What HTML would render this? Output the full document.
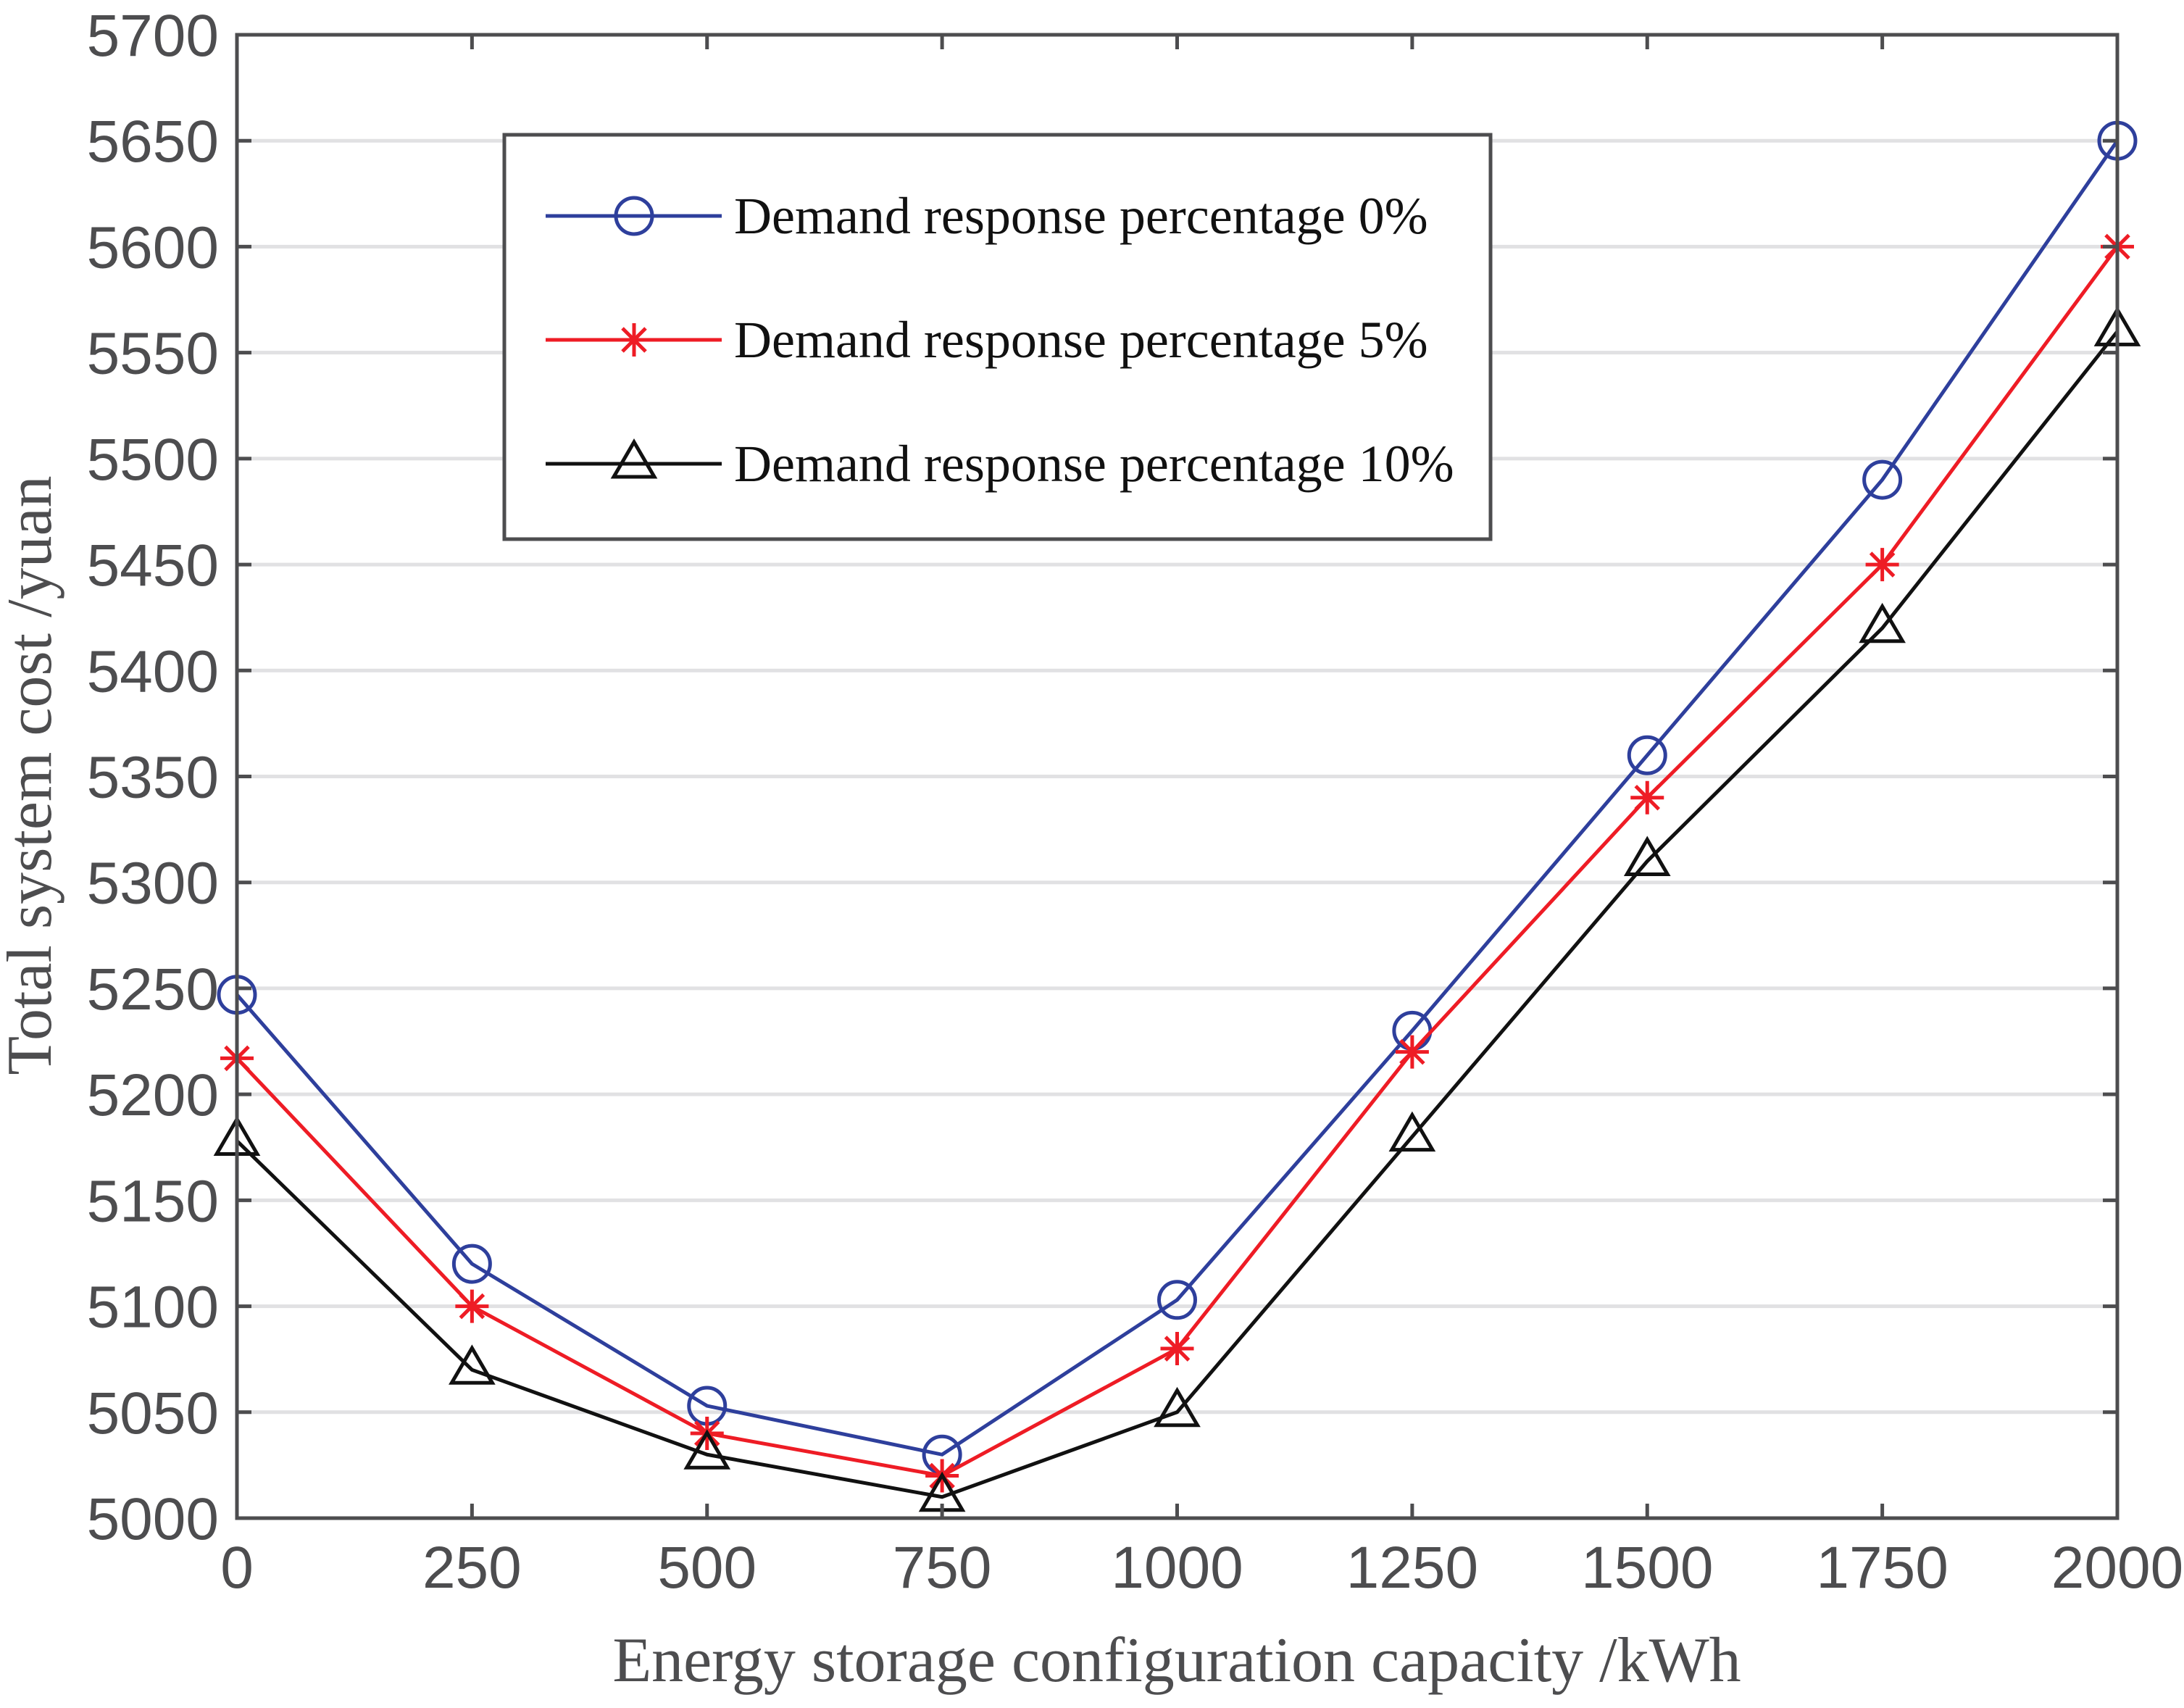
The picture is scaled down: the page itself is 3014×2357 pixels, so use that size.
<!DOCTYPE html>
<html><head><meta charset="utf-8"><style>body{margin:0;background:#fff}svg{display:block}</style></head>
<body>
<svg id="chart" width="3014" height="2357" xmlns="http://www.w3.org/2000/svg">
<g id="grid"></g>
<g id="series"></g>
<rect x="327" y="48" width="2595" height="2047" fill="none" stroke="#4d4d4f" stroke-width="5"/>
<g id="ticks"></g>
<text x="1624" y="2320" font-family="Liberation Serif, serif" font-size="88" fill="#4d4d4f" text-anchor="middle">Energy storage configuration capacity /kWh</text>
<text transform="translate(70,1070) rotate(-90)" font-family="Liberation Serif, serif" font-size="88" fill="#4d4d4f" text-anchor="middle">Total system cost /yuan</text>
<g id="legend">
<rect x="696" y="186" width="1361" height="558" fill="#fff" stroke="#4d4d4f" stroke-width="5"/>
</g>
</svg>
<script>
const categories=[0,250,500,750,1000,1250,1500,1750,2000];
const series0=[5247,5120,5053,5030,5103,5230,5360,5490,5650];
const series5=[5217,5100,5040,5020,5080,5220,5340,5450,5600];
const series10=[5178,5070,5030,5010,5050,5180,5310,5420,5560];
const yTicks=[5000,5050,5100,5150,5200,5250,5300,5350,5400,5450,5500,5550,5600,5650,5700];
const xTicks=[0,250,500,750,1000,1250,1500,1750,2000];
const names=["Demand response percentage 0%","Demand response percentage 5%","Demand response percentage 10%"];
const NS="http://www.w3.org/2000/svg";
const L=327,R=2922,T=48,B=2095;
const xs=v=>L+(v-0)/(2000-0)*(R-L);
const ys=v=>B-(v-5000)/(5700-5000)*(B-T);
function mk(tag,attrs,parent){const e=document.createElementNS(NS,tag);for(const k in attrs)e.setAttribute(k,attrs[k]);parent.appendChild(e);return e;}
const grid=document.getElementById('grid'),ticks=document.getElementById('ticks'),ser=document.getElementById('series'),leg=document.getElementById('legend');
yTicks.forEach(v=>{
  const y=ys(v);
  if(v>5000&&v<5700){const g=mk('line',{x1:L,x2:R,y1:y,y2:y,stroke:'#e1e1e3','stroke-width':5},grid);
  
  }
  const t=mk('line',{x1:L,x2:L+20,y1:y,y2:y,stroke:'#4d4d4f','stroke-width':5},ticks);
  
  
  const t2=mk('line',{x1:R,x2:R-20,y1:y,y2:y,stroke:'#4d4d4f','stroke-width':5},ticks);
  
  
  const tx=mk('text',{x:L-25,y:y+29,'text-anchor':'end','font-family':'Liberation Sans, sans-serif','font-size':82,fill:'#4d4d4f'},ticks);
  tx.textContent=v;
  
  
});
xTicks.forEach(v=>{
  const x=xs(v);
  const t=mk('line',{x1:x,x2:x,y1:B,y2:B-20,stroke:'#4d4d4f','stroke-width':5},ticks);
  
  
  const t2=mk('line',{x1:x,x2:x,y1:T,y2:T+20,stroke:'#4d4d4f','stroke-width':5},ticks);
  
  
  const tx=mk('text',{x:x,y:B+96,'text-anchor':'middle','font-family':'Liberation Sans, sans-serif','font-size':82,fill:'#4d4d4f'},ticks);
  tx.textContent=v;
  
  
});
function marker(type,x,y,color,parent){
  let e;
  if(type==='circle'){e=mk('circle',{cx:x,cy:y,r:25,fill:'none',stroke:color,'stroke-width':5},parent);}
  else if(type==='star'){const s=23,d=16;e=mk('path',{d:`M${x-s},${y}H${x+s}M${x},${y-s}V${y+s}M${x-d},${y-d}L${x+d},${y+d}M${x-d},${y+d}L${x+d},${y-d}`,fill:'none',stroke:color,'stroke-width':5},parent);}
  else{e=mk('path',{d:`M${x},${y-30}L${x+28},${y+18}L${x-28},${y+18}Z`,fill:'none',stroke:color,'stroke-width':5},parent);}
  return e;
}
const defs=[[series0,'#2e3f9c','circle','series-0pct'],[series5,'#ee1c25','star','series-5pct'],[series10,'#111111','triangle','series-10pct']];
defs.forEach(([vals,color,type,name])=>{
  const g=mk('g',{},ser);
  
  
  const pl=mk('polyline',{points:vals.map((v,i)=>xs(categories[i])+','+ys(v)).join(' '),fill:'none',stroke:color,'stroke-width':5},g);
  
  
  vals.forEach((v,i)=>{const m=marker(type,xs(categories[i]),ys(v),color,g);
    
    });
});
const ly=[298,469,640];
defs.forEach(([vals,color,type,name],i)=>{
  const g=mk('g',{},leg);
  
  
  mk('line',{x1:753,x2:996,y1:ly[i],y2:ly[i],stroke:color,'stroke-width':5},g);
  marker(type,875,ly[i],color,g);
  const t=mk('text',{x:1013,y:ly[i]+24,'font-family':'Liberation Serif, serif','font-size':72,fill:'#111'},g);
  t.textContent=names[i];
  
  
});
</script>
</body></html>
